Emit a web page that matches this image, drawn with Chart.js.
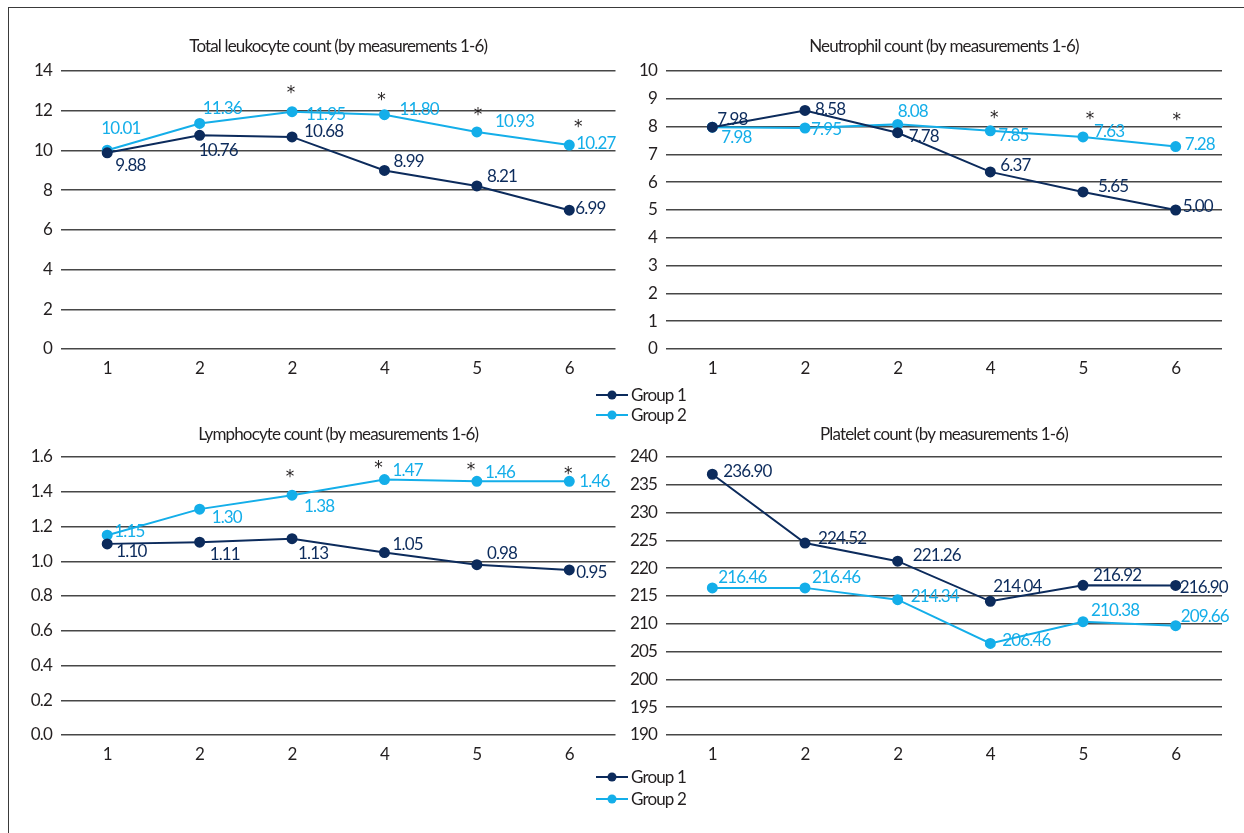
<!DOCTYPE html>
<html>
<head>
<meta charset="utf-8">
<script src="https://cdn.jsdelivr.net/npm/chart.js@4/dist/chart.umd.min.js"></script>
<style>
  html, body { margin: 0; padding: 0; background: #fff; }
  body { width: 1244px; height: 833px; position: relative; overflow: hidden; }
  .frame { position: absolute; left: 8px; top: 7px; width: 1300px; height: 900px;
           border-left: 1.5px solid #3a3a3a; border-top: 1.5px solid #3a3a3a; }
  canvas { position: absolute; }
</style>
</head>
<body>
<div class="frame"></div>
<canvas id="cLeuko"></canvas>
<canvas id="cNeutro"></canvas>
<canvas id="cLympho"></canvas>
<canvas id="cPlatelet"></canvas>
<script>
// Measurement labels along the x axis
const categories = ['1', '2', '2', '4', '5', '6'];
const seriesNames = ['Group 1', 'Group 2'];

// Total leukocyte count
const leukoG1 = [9.88, 10.76, 10.68, 8.99, 8.21, 6.99];
const leukoG2 = [10.01, 11.36, 11.95, 11.80, 10.93, 10.27];
const leukoSig = [false, false, true, true, true, true];

// Neutrophil count
const neutroG1 = [7.98, 8.58, 7.78, 6.37, 5.65, 5.00];
const neutroG2 = [7.98, 7.95, 8.08, 7.85, 7.63, 7.28];
const neutroSig = [false, false, false, true, true, true];

// Lymphocyte count
const lymphoG1 = [1.10, 1.11, 1.13, 1.05, 0.98, 0.95];
const lymphoG2 = [1.15, 1.30, 1.38, 1.47, 1.46, 1.46];
const lymphoSig = [false, false, true, true, true, true];

// Platelet count
const plateletG1 = [236.90, 224.52, 221.26, 214.04, 216.92, 216.90];
const plateletG2 = [216.46, 216.46, 214.34, 206.46, 210.38, 209.66];
const plateletSig = [false, false, false, false, false, false];

const COLOR_G1 = '#0c2b5c';
const COLOR_G2 = '#14aee9';
const TEXT = '#231f20';
const GRID = '#474747';
const FONT = "Lato, 'Noto Sans', sans-serif";
const STAR_FONT = "'DejaVu Sans', sans-serif";
const FS = 17;
const TRACKING = '-0.85px';

// Value label placement (left edge offset, vertical centre offset) per point
const labelOffsets = {
  leuko: [
    [[8, 13], [-1, 15], [12, -5], [9, -9], [10, -9], [6, -2]],
    [[-6, -22], [3, -15], [14, 3], [15, -5], [18, -10], [7, -2]]
  ],
  neutro: [
    [[5, -8], [10, -1], [11, 4], [10, -6], [15, -5], [7, -3]],
    [[9, 10], [6, 2], [0, -13], [8, 5], [11, -5], [9, -2]]
  ],
  lympho: [
    [[9, 8], [10, 12], [6, 15], [8, -8], [10, -11], [7, 3]],
    [[7, -4], [12, 8], [12, 11], [8, -9], [8, -9], [10, 0]]
  ],
  platelet: [
    [[11, -3], [13, -5], [15, -6], [3, -15], [10, -10], [4, 2]],
    [[6, -10], [7, -10], [13, -3], [12, -3], [8, -11], [5, -9]]
  ]
};
// Asterisk placement relative to the Group 2 point
const starOffsets = {
  leuko: [[0, 0], [0, 0], [-1, -22], [-3, -18], [1, -20], [9, -21]],
  neutro: [[0, 0], [0, 0], [0, 0], [4, -16], [7, -21], [1, -30]],
  lympho: [[0, 0], [0, 0], [-2, -22], [-6, -15], [-6, -15], [-1, -11]],
  platelet: [[0, 0], [0, 0], [0, 0], [0, 0], [0, 0], [0, 0]]
};

// Slightly tighter tracking for every text run on the canvas
const tightText = {
  id: 'tightText',
  beforeLayout(chart) { chart.ctx.letterSpacing = TRACKING; },
  beforeDraw(chart) { chart.ctx.letterSpacing = TRACKING; }
};

// Draws the numeric value next to each point, plus significance asterisks
const valueLabels = {
  id: 'valueLabels',
  afterDatasetsDraw(chart, args, opts) {
    const ctx = chart.ctx;
    ctx.save();
    ctx.font = FS + 'px ' + FONT;
    ctx.textBaseline = 'middle';
    ctx.textAlign = 'left';
    chart.data.datasets.forEach((ds, di) => {
      const meta = chart.getDatasetMeta(di);
      meta.data.forEach((pt, i) => {
        const off = opts.offsets[di][i];
        ctx.fillStyle = ds.borderColor;
        ctx.fillText(ds.data[i].toFixed(opts.decimals), pt.x + off[0], pt.y + off[1]);
      });
    });
    const meta2 = chart.getDatasetMeta(1);
    ctx.fillStyle = TEXT;
    ctx.textAlign = 'center';
    ctx.letterSpacing = '0px';
    ctx.font = '17px ' + STAR_FONT;
    opts.sig.forEach((s, i) => {
      if (!s) return;
      const pt = meta2.data[i];
      const off = opts.stars[i];
      ctx.fillText('*', pt.x + off[0], pt.y + off[1] + 4);
    });
    ctx.restore();
  }
};

// Legend block with line + marker swatches
const sideLegend = {
  id: 'sideLegend',
  afterDraw(chart, args, opts) {
    if (!opts.show) return;
    const ctx = chart.ctx;
    ctx.save();
    ctx.font = FS + 'px ' + FONT;
    ctx.textBaseline = 'middle';
    ctx.textAlign = 'left';
    chart.data.datasets.forEach((ds, di) => {
      const y = opts.y[di];
      ctx.strokeStyle = ds.borderColor;
      ctx.lineWidth = 2;
      ctx.beginPath();
      ctx.moveTo(opts.x, y);
      ctx.lineTo(opts.x + 32, y);
      ctx.stroke();
      ctx.fillStyle = ds.borderColor;
      ctx.beginPath();
      ctx.arc(opts.x + 16, y, 4.5, 0, Math.PI * 2);
      ctx.fill();
      ctx.fillStyle = TEXT;
      ctx.fillText(ds.label, opts.x + 35, y + 1);
    });
    ctx.restore();
  }
};

function makeChart(id, cfg) {
  const el = document.getElementById(id);
  el.width = cfg.box.w; el.height = cfg.box.h;
  el.style.left = cfg.box.x + 'px'; el.style.top = cfg.box.y + 'px';
  el.style.width = cfg.box.w + 'px'; el.style.height = cfg.box.h + 'px';
  const areaLeft = cfg.area.l - cfg.box.x;
  const areaRight = cfg.area.r - cfg.box.x;
  const areaTop = cfg.area.t - cfg.box.y;
  const areaBottom = cfg.area.b - cfg.box.y;
  const titleCenter = cfg.titleY - cfg.box.y;
  const lh = FS * 1.2;
  const mkDs = (label, data, color) => ({
    label, data, borderColor: color, backgroundColor: color,
    pointBackgroundColor: color, pointBorderColor: color,
    borderWidth: 2, pointRadius: 4.5, pointHoverRadius: 4.5, tension: 0, fill: false
  });
  return new Chart(el, {
    type: 'line',
    data: {
      labels: categories,
      datasets: [mkDs(seriesNames[0], cfg.g1, COLOR_G1), mkDs(seriesNames[1], cfg.g2, COLOR_G2)]
    },
    options: {
      responsive: false,
      animation: false,
      devicePixelRatio: 1,
      layout: { padding: { left: 0, right: cfg.box.w - areaRight, top: 0, bottom: 0 } },
      plugins: {
        legend: { display: false },
        tooltip: { enabled: false },
        title: {
          display: true, fullSize: false, text: cfg.title, color: TEXT,
          font: { family: FONT, size: FS, weight: 'normal', lineHeight: 1.2 },
          padding: { top: titleCenter - lh / 2, bottom: areaTop - titleCenter - lh / 2 }
        },
        valueLabels: { offsets: cfg.offsets, decimals: 2, sig: cfg.sig, stars: cfg.stars },
        sideLegend: cfg.legend || { show: false }
      },
      scales: {
        x: {
          offset: true,
          grid: { display: false, drawTicks: false },
          border: { display: false },
          ticks: { color: TEXT, font: { family: FONT, size: FS }, padding: 9 },
          afterFit: (s) => { s.height = cfg.box.h - areaBottom; }
        },
        y: {
          min: cfg.min, max: cfg.max,
          grid: { color: GRID, lineWidth: 1.5, drawTicks: false },
          border: { display: false },
          ticks: {
            stepSize: cfg.step, color: TEXT, padding: 9,
            font: { family: FONT, size: FS },
            callback: (v) => v.toFixed(cfg.tickDecimals)
          },
          afterFit: (s) => { s.width = areaLeft; }
        }
      }
    },
    plugins: [tightText, valueLabels, sideLegend]
  });
}

makeChart('cLeuko', {
  box: { x: 0, y: 0, w: 622, h: 430 },
  area: { l: 61, r: 617, t: 71, b: 349 }, titleY: 47,
  title: 'Total leukocyte count (by measurements 1-6)',
  g1: leukoG1, g2: leukoG2, sig: leukoSig,
  min: 0, max: 14, step: 2, tickDecimals: 0,
  offsets: labelOffsets.leuko, stars: starOffsets.leuko
});

makeChart('cNeutro', {
  box: { x: 580, y: 0, w: 664, h: 430 },
  area: { l: 666, r: 1222, t: 71, b: 349 }, titleY: 47,
  title: 'Neutrophil count (by measurements 1-6)',
  g1: neutroG1, g2: neutroG2, sig: neutroSig,
  min: 0, max: 10, step: 1, tickDecimals: 0,
  offsets: labelOffsets.neutro, stars: starOffsets.neutro,
  legend: { show: true, x: 16, y: [395, 415] }
});

makeChart('cLympho', {
  box: { x: 0, y: 400, w: 622, h: 433 },
  area: { l: 61, r: 617, t: 457, b: 735 }, titleY: 435,
  title: 'Lymphocyte count (by measurements 1-6)',
  g1: lymphoG1, g2: lymphoG2, sig: lymphoSig,
  min: 0, max: 1.6, step: 0.2, tickDecimals: 1,
  offsets: labelOffsets.lympho, stars: starOffsets.lympho
});

makeChart('cPlatelet', {
  box: { x: 580, y: 400, w: 664, h: 433 },
  area: { l: 666, r: 1222, t: 457, b: 735 }, titleY: 435,
  title: 'Platelet count (by measurements 1-6)',
  g1: plateletG1, g2: plateletG2, sig: plateletSig,
  min: 190, max: 240, step: 5, tickDecimals: 0,
  offsets: labelOffsets.platelet, stars: starOffsets.platelet,
  legend: { show: true, x: 16, y: [377, 399] }
});
</script>
</body>
</html>
